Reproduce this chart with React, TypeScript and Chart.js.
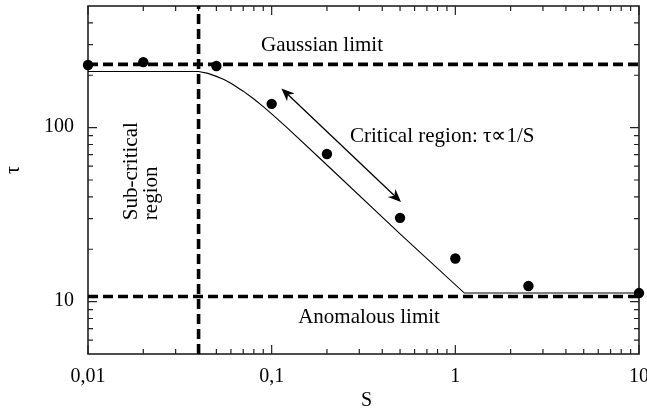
import React, { useEffect, useRef } from 'react';
import Chart from 'chart.js/auto';

// Measured points (S, tau)
const POINT_S = [0.01, 0.02, 0.05, 0.1, 0.2, 0.5, 1, 2.5, 10];
const POINT_TAU = [229, 238, 226, 137, 70.5, 30.3, 17.7, 12.3, 11.2];

// Model curve (S, tau)
const FIT_S = [0.01, 0.04, 0.045, 0.05, 0.055, 0.06, 0.07, 0.08, 0.09, 0.1, 0.12, 0.2, 0.5, 1.12, 10];
const FIT_TAU = [210, 210, 205, 197, 189, 180, 162, 146, 132, 120, 101, 61, 24.5, 11.2, 11.2];

// Limits
const GAUSSIAN_LIMIT = 231;
const ANOMALOUS_LIMIT = 10.7;
const CRITICAL_S = 0.04;

// Axis
const X_MIN = 0.01;
const X_MAX = 10;
const Y_MIN = 5;
const Y_MAX = 500;
const X_TICKS = [0.01, 0.1, 1, 10];
const X_TICK_LABELS = ['0,01', '0,1', '1', '10'];
const Y_TICKS = [10, 100];
const Y_TICK_LABELS = ['10', '100'];

// Arrow endpoints (S, tau)
const ARROW_START = [0.113, 168];
const ARROW_END = [0.506, 37.4];

const FONT = '"Liberation Serif", "Times New Roman", serif';

function minorTicks(min: number, max: number): number[] {
  const out: number[] = [];
  let dec = Math.pow(10, Math.floor(Math.log10(min)));
  while (dec < max) {
    for (let k = 2; k < 10; k++) {
      const v = k * dec;
      if (v > min * 1.0001 && v < max * 0.9999) out.push(v);
    }
    dec *= 10;
  }
  return out;
}

const framePlugin = {
  id: 'frame',
  beforeDatasetsDraw(chart: any) {
    const { ctx, chartArea: a, scales } = chart;
    const x = scales.x;
    const y = scales.y;
    ctx.save();
    ctx.strokeStyle = '#222';
    ctx.lineWidth = 1.6;
    ctx.strokeRect(a.left, a.top, a.right - a.left, a.bottom - a.top);
    ctx.lineWidth = 1.2;
    ctx.beginPath();
    const tick = (v: number, len: number, horiz: boolean) => {
      if (horiz) {
        const px = x.getPixelForValue(v);
        ctx.moveTo(px, a.bottom);
        ctx.lineTo(px, a.bottom - len);
        ctx.moveTo(px, a.top);
        ctx.lineTo(px, a.top + len);
      } else {
        const py = y.getPixelForValue(v);
        ctx.moveTo(a.left, py);
        ctx.lineTo(a.left + len, py);
        ctx.moveTo(a.right, py);
        ctx.lineTo(a.right - len, py);
      }
    };
    X_TICKS.forEach((v) => tick(v, 9, true));
    minorTicks(X_MIN, X_MAX).forEach((v) => tick(v, 5, true));
    Y_TICKS.forEach((v) => tick(v, 9, false));
    minorTicks(Y_MIN, Y_MAX).forEach((v) => tick(v, 5, false));
    ctx.stroke();
    ctx.restore();
  },
  afterDatasetsDraw(chart: any) {
    const { ctx, chartArea: a, scales } = chart;
    const x = scales.x;
    const y = scales.y;
    const px = (s: number) => x.getPixelForValue(s);
    const py = (t: number) => y.getPixelForValue(t);
    ctx.save();
    ctx.fillStyle = '#000';
    // tick labels
    ctx.font = '20px ' + FONT;
    ctx.textAlign = 'center';
    ctx.textBaseline = 'middle';
    X_TICKS.forEach((v, i) => ctx.fillText(X_TICK_LABELS[i], px(v), a.bottom + 23));
    ctx.textAlign = 'right';
    Y_TICKS.forEach((v, i) => ctx.fillText(Y_TICK_LABELS[i], a.left - 14, py(v) - 1));
    // axis titles
    ctx.textAlign = 'center';
    ctx.fillText('S', (a.left + a.right) / 2 + 3, a.bottom + 47);
    ctx.save();
    ctx.translate(14, 170);
    ctx.rotate(-Math.PI / 2);
    ctx.fillText('τ', 0, 0);
    ctx.restore();

    // annotations
    ctx.font = '21px ' + FONT;
    ctx.textAlign = 'center';
    ctx.textBaseline = 'middle';
    ctx.fillText('Gaussian limit', px(0.188), py(298));
    ctx.fillText('Anomalous limit', px(0.339), py(8.16));
    ctx.textAlign = 'left';
    ctx.fillText('Critical region: τ∝1/S', px(0.267), py(88.9));
    ctx.textBaseline = 'alphabetic';
    ctx.save();
    ctx.translate(px(0.01837), py(29.4));
    ctx.rotate(-Math.PI / 2);
    ctx.fillText('Sub-critical', 0, 0);
    ctx.fillText('region', 0, 20);
    ctx.restore();

    // double-headed arrow
    const x1 = px(ARROW_START[0]);
    const y1 = py(ARROW_START[1]);
    const x2 = px(ARROW_END[0]);
    const y2 = py(ARROW_END[1]);
    ctx.strokeStyle = '#000';
    ctx.lineWidth = 1.3;
    const ang = Math.atan2(y2 - y1, x2 - x1);
    const L = 13;
    const W = 5.5;
    const ux = Math.cos(ang);
    const uy = Math.sin(ang);
    ctx.beginPath();
    ctx.moveTo(x1 + ux * 6, y1 + uy * 6);
    ctx.lineTo(x2 - ux * 6, y2 - uy * 6);
    ctx.stroke();
    const head = (tx: number, ty: number, dx: number, dy: number) => {
      const bx = tx + dx * L;
      const by = ty + dy * L;
      const nx = -dy;
      const ny = dx;
      ctx.beginPath();
      ctx.moveTo(tx, ty);
      ctx.lineTo(bx + nx * W, by + ny * W);
      ctx.lineTo(tx + dx * L * 0.7, ty + dy * L * 0.7);
      ctx.lineTo(bx - nx * W, by - ny * W);
      ctx.closePath();
      ctx.fill();
    };
    head(x1, y1, ux, uy);
    head(x2, y2, -ux, -uy);
    ctx.restore();
  },
};

export default function App() {
  const ref = useRef<HTMLCanvasElement | null>(null);
  useEffect(() => {
    document.body.style.margin = '0';
    const canvas = ref.current;
    if (!canvas) return;
    const dashed = {
      borderColor: '#000',
      borderWidth: 3.6,
      borderDash: [10, 5],
      borderCapStyle: 'butt' as const,
      pointRadius: 0,
      showLine: true,
      fill: false,
      clip: false as const,
    };
    const chart = new Chart(canvas, {
      type: 'line',
      data: {
        datasets: [
          {
            label: 'data',
            data: POINT_S.map((s, i) => ({ x: s, y: POINT_TAU[i] })),
            showLine: false,
            pointRadius: 5.2,
            pointBackgroundColor: '#000',
            pointBorderColor: '#000',
            pointBorderWidth: 0,
            clip: false as const,
          },
          {
            label: 'fit',
            data: FIT_S.map((s, i) => ({ x: s, y: FIT_TAU[i] })),
            borderColor: '#000',
            borderWidth: 1.1,
            pointRadius: 0,
            tension: 0,
            clip: false as const,
          },
          {
            label: 'gaussian',
            data: [
              { x: X_MIN, y: GAUSSIAN_LIMIT },
              { x: X_MAX, y: GAUSSIAN_LIMIT },
            ],
            ...dashed,
          },
          {
            label: 'anomalous',
            data: [
              { x: X_MIN, y: ANOMALOUS_LIMIT },
              { x: X_MAX, y: ANOMALOUS_LIMIT },
            ],
            ...dashed,
          },
          {
            label: 'critical',
            data: [
              { x: CRITICAL_S, y: Y_MIN },
              { x: CRITICAL_S, y: Y_MAX },
            ],
            ...dashed,
          },
        ],
      },
      options: {
        animation: false,
        responsive: false,
        maintainAspectRatio: false,
        devicePixelRatio: 1,
        layout: { padding: { left: 88, right: 8, top: 6, bottom: 62 } },
        plugins: { legend: { display: false }, tooltip: { enabled: false } },
        events: [],
        scales: {
          x: { type: 'logarithmic', min: X_MIN, max: X_MAX, display: false },
          y: { type: 'logarithmic', min: Y_MIN, max: Y_MAX, display: false },
        },
      },
      plugins: [framePlugin],
    });
    return () => chart.destroy();
  }, []);
  return (
    <div style={{ position: 'fixed', left: 0, top: 0, width: 647, height: 416, background: '#fff' }}>
      <canvas ref={ref} width={647} height={416} style={{ display: 'block' }} />
    </div>
  );
}
